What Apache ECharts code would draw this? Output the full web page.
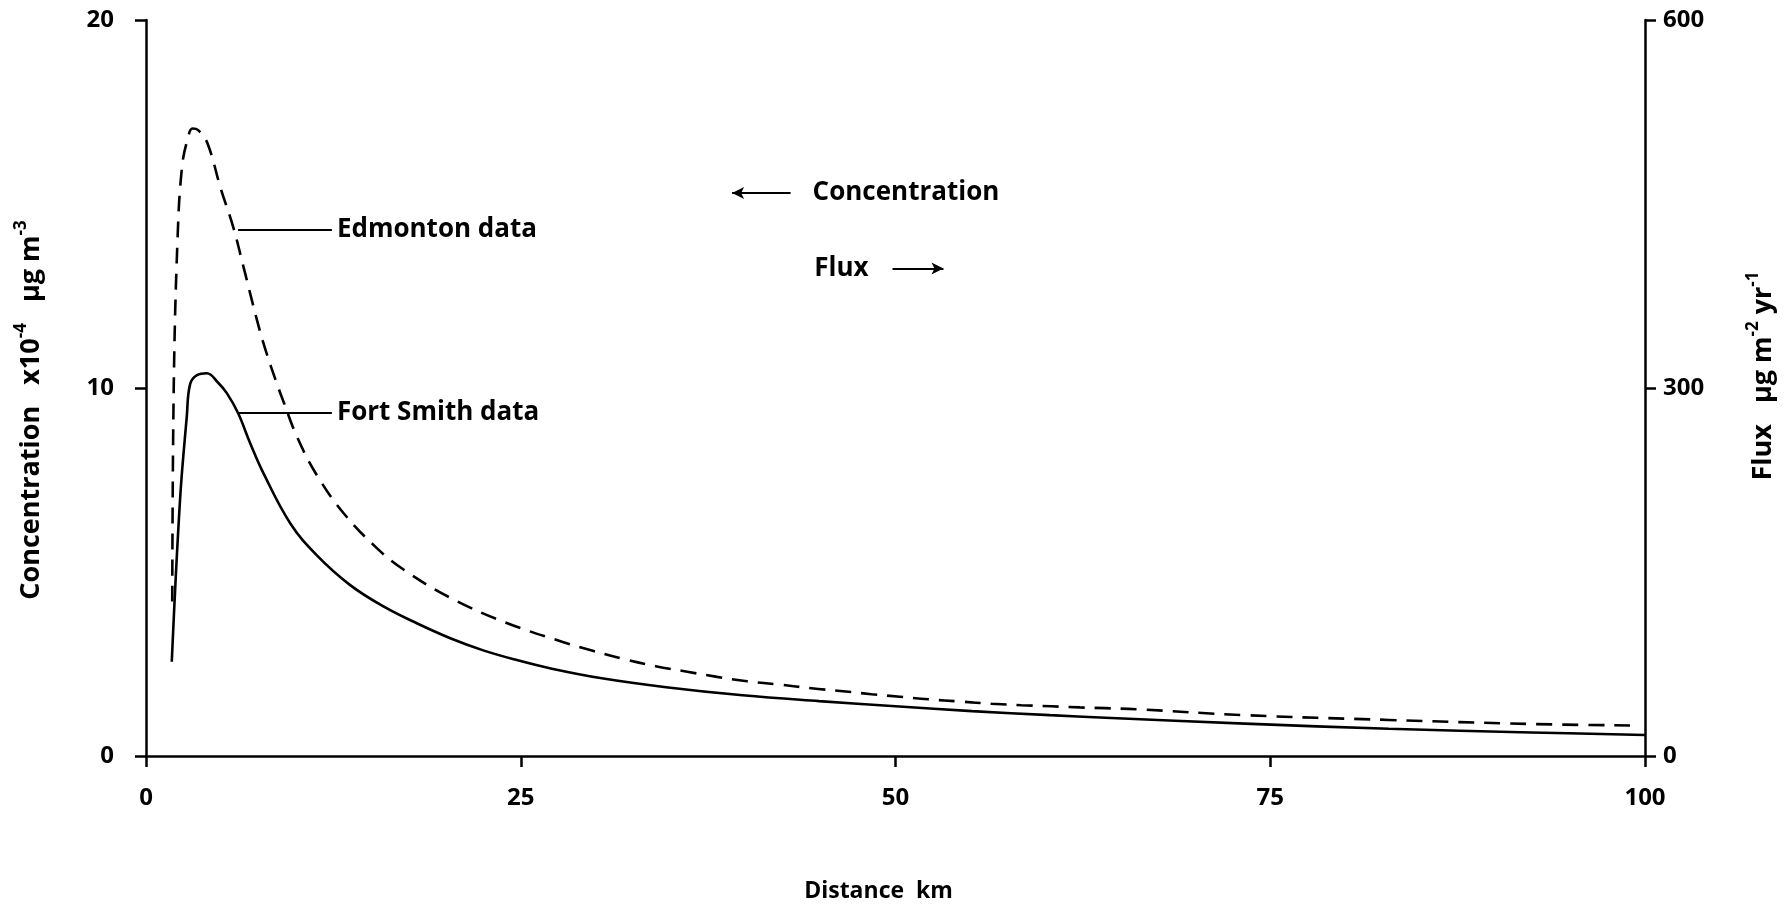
<!DOCTYPE html>
<html>
<head>
<meta charset="utf-8">
<title>Concentration and flux vs distance</title>
<script src="https://cdn.jsdelivr.net/npm/echarts@6/dist/echarts.min.js"></script>
<style>
  html, body { margin: 0; padding: 0; background: #fff; }
  #chart { width: 1788px; height: 907px; }
</style>
</head>
<body>
<div id="chart"></div>
<script>
// distance (km) and concentration (x10^-4 ug m^-3)
const edmontonKm = [1.75, 1.85, 2.1, 2.4, 2.8, 3.1, 3.5, 4.1, 5.0, 5.8, 6.5, 7.4, 8.0, 8.75, 9.2, 10.1, 11.4, 13.2, 15.4, 17.2, 20.3, 23.9, 27.8, 29.8, 32.0, 34.0, 36.1, 38.1, 40.1, 42.3, 44.4, 46.5, 48.4, 50.3, 52.2, 54.3, 56.4, 58.4, 60.4, 62.3, 64.0, 66.1, 73.3, 82.9, 92.4, 99.0];
const edmontonConc = [4.2, 10.0, 14.0, 16.0, 16.8, 17.05, 17.0, 16.65, 15.4, 14.4, 13.3, 11.85, 11.0, 10.1, 9.6, 8.65, 7.63, 6.59, 5.65, 5.06, 4.3, 3.64, 3.1, 2.86, 2.62, 2.44, 2.29, 2.15, 2.03, 1.94, 1.84, 1.76, 1.68, 1.61, 1.54, 1.48, 1.42, 1.38, 1.35, 1.32, 1.30, 1.27, 1.11, 0.98, 0.87, 0.83];

const fortSmithKm = [1.72, 2.27, 2.72, 2.94, 3.4, 4.06, 4.8, 5.39, 6.14, 6.95, 7.84, 9.63, 11.4, 13.6, 15.9, 18.1, 20.3, 22.5, 24.8, 27.0, 30.3, 34.7, 39.8, 44.9, 50.0, 55.1, 60.3, 64.0, 73.3, 82.9, 92.4, 100];
const fortSmithConc = [2.56, 6.96, 9.22, 10.1, 10.35, 10.4, 10.15, 9.86, 9.32, 8.5, 7.68, 6.32, 5.45, 4.65, 4.05, 3.6, 3.2, 2.87, 2.6, 2.38, 2.12, 1.87, 1.65, 1.49, 1.35, 1.22, 1.11, 1.04, 0.88, 0.74, 0.64, 0.57];

// axis ranges [min, max, interval]
const xRange = [0, 100, 25];
const concRange = [0, 20, 10];
const fluxRange = [0, 600, 300];

const zip = (xs, ys) => xs.map((x, i) => [x, ys[i]]);

const FONT = '"Open Sans", "DejaVu Sans", sans-serif';
const txt = { fontFamily: FONT, fontWeight: 'bold', color: '#000' };
const axisLine = { onZero: false, lineStyle: { color: '#000', width: 2.5 } };
const axisTick = { show: true, length: 11, lineStyle: { color: '#000', width: 2.5 } };

const nameRich = {
  b: { ...txt, fontSize: 27, lineHeight: 36, verticalAlign: 'middle' },
  s: { ...txt, fontSize: 17, lineHeight: 17, verticalAlign: 'top' },
  gapL: { width: 44 },
  gapR: { width: 24 },
  gapX: { width: 34 }
};

const chart = echarts.init(document.getElementById('chart'));

const option = {
  animation: false,
  backgroundColor: '#fff',
  grid: { left: 146, right: 143, top: 20, bottom: 151, containLabel: false, outerBoundsMode: 'none' },
  xAxis: {
    type: 'value',
    min: xRange[0], max: xRange[1], interval: xRange[2],
    name: '{x|Distance  km}{gapX|}',
    nameLocation: 'middle',
    nameGap: 124,
    nameTextStyle: { rich: { ...nameRich, x: { ...txt, fontSize: 23 } } },
    axisLine, axisTick,
    axisLabel: { ...txt, fontSize: 24, margin: 30 },
    splitLine: { show: false }
  },
  yAxis: [
    {
      type: 'value',
      position: 'left',
      min: concRange[0], max: concRange[1], interval: concRange[2],
      name: '{b|Concentration   x10}{s|-4}{b|   µg m}{s|-3}{gapL|}',
      nameLocation: 'middle',
      nameRotate: 90,
      nameGap: 97,
      nameTextStyle: { rich: nameRich },
      axisLine, axisTick,
      axisLabel: { ...txt, fontSize: 24, margin: 32 },
      splitLine: { show: false }
    },
    {
      type: 'value',
      position: 'right',
      min: fluxRange[0], max: fluxRange[1], interval: fluxRange[2],
      name: '{gapR|}{b|Flux   µg m}{s|-2}{b| yr}{s|-1}',
      nameLocation: 'middle',
      nameRotate: 90,
      nameGap: 100,
      nameTextStyle: { rich: nameRich },
      axisLine, axisTick,
      axisLabel: { ...txt, fontSize: 24, margin: 18 },
      splitLine: { show: false }
    }
  ],
  series: [
    {
      name: 'Edmonton data',
      type: 'line',
      yAxisIndex: 0,
      data: zip(edmontonKm, edmontonConc),
      showSymbol: false,
      smooth: 0.4,
      lineStyle: { color: '#000', width: 2.6, type: [16, 10] },
      markLine: {
        silent: true,
        symbol: ['none', 'none'],
        lineStyle: { color: '#000', width: 2, type: 'solid' },
        label: { ...txt, fontSize: 26, position: 'end', distance: 5, formatter: '{b}' },
        data: [
          [{ name: 'Edmonton data', coord: [6.14, 14.3] }, { coord: [12.4, 14.3] }],
          [{ name: 'Fort Smith data', coord: [6.14, 9.32] }, { coord: [12.4, 9.32] }]
        ]
      }
    },
    {
      name: 'Fort Smith data',
      type: 'line',
      yAxisIndex: 0,
      data: zip(fortSmithKm, fortSmithConc),
      showSymbol: false,
      smooth: 0.4,
      lineStyle: { color: '#000', width: 2.6, type: 'solid' },
      markLine: {
        silent: true,
        lineStyle: { color: '#000', width: 2, type: 'solid' },
        label: { ...txt, fontSize: 26, formatter: '{b}' },
        data: [
          [
            { name: 'Concentration', coord: [39.1, 15.3], symbol: 'arrow', symbolSize: [9, 12],
              label: { position: 'end', distance: 22 } },
            { coord: [43.0, 15.3], symbol: 'none' }
          ],
          [
            { name: 'Flux', coord: [49.8, 13.25], symbol: 'none',
              label: { position: 'start', distance: 24 } },
            { coord: [53.2, 13.25], symbol: 'arrow', symbolSize: [9, 12] }
          ]
        ]
      }
    }
  ]
};

chart.setOption(option);
window.addEventListener('resize', () => chart.resize());
</script>
</body>
</html>
